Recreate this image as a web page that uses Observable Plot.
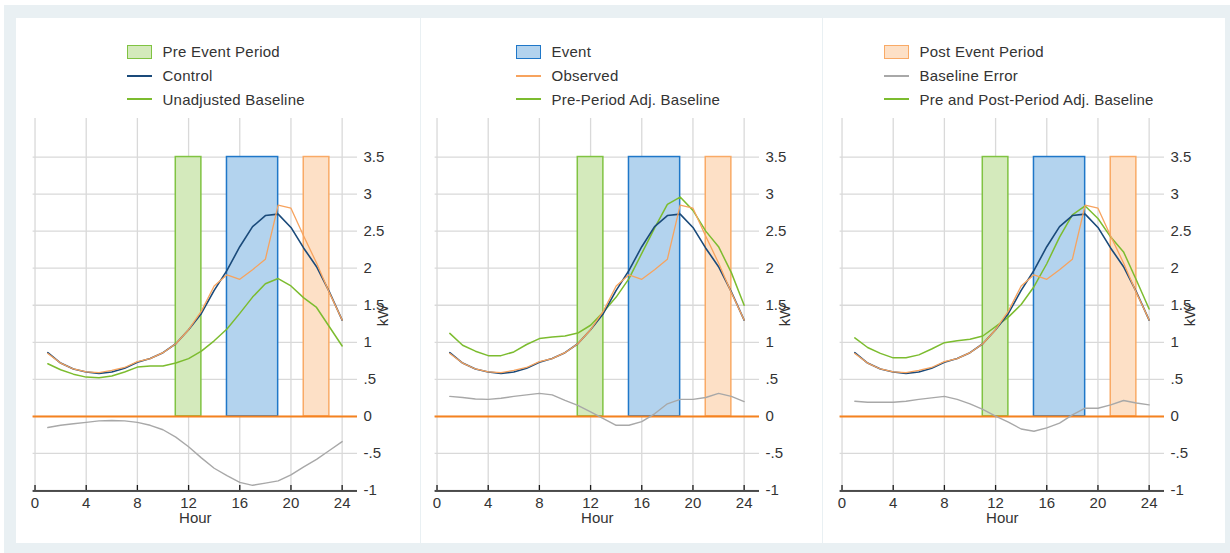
<!DOCTYPE html>
<html>
<head>
<meta charset="utf-8">
<script src="https://cdn.jsdelivr.net/npm/d3@7"></script>
<script src="https://cdn.jsdelivr.net/npm/@observablehq/plot@0.6"></script>
<style>
  body { margin: 0; width: 1230px; height: 553px; overflow: hidden; background: #fff;
         font-family: "Liberation Sans", Arial, sans-serif; }
  .bg { position: absolute; left: 4px; top: 5px; width: 1226px; height: 548px; background: #e9f0f3; }
  .pane { position: absolute; top: 18px; height: 525px; background: #fff; }
  .chart { position: absolute; top: 110px; }
  .legend { position: absolute; top: 40px; font-size: 15px; color: #333; letter-spacing: 0.25px; }
  .row { display: flex; align-items: center; height: 23.8px; white-space: nowrap; }
  .sw { width: 26px; display: flex; justify-content: center; align-items: center; margin-right: 10.5px; }
  .box { width: 23px; height: 12px; border-width: 1.5px; border-style: solid; }
  .ln { width: 25px; height: 2px; }
</style>
</head>
<body>
<div class="bg"></div>
<div class="pane" style="left:16px;width:404px"></div>
<div class="pane" style="left:421px;width:401px"></div>
<div class="pane" style="left:823px;width:402px"></div>
<div id="root"></div>
<script>
// ---------- data ----------
const hours = [1,2,3,4,5,6,7,8,9,10,11,12,13,14,15,16,17,18,19,20,21,22,23,24];

const control  = [0.86,0.72,0.64,0.60,0.58,0.60,0.65,0.73,0.78,0.86,0.98,1.17,1.39,1.70,1.97,2.29,2.56,2.71,2.73,2.55,2.27,2.02,1.68,1.30];
const observed = [0.85,0.72,0.64,0.60,0.59,0.62,0.66,0.74,0.78,0.86,0.98,1.17,1.42,1.76,1.91,1.85,1.98,2.12,2.85,2.81,2.43,2.07,1.67,1.30];

const unadjBaseline = [0.71,0.63,0.57,0.53,0.52,0.545,0.60,0.665,0.68,0.68,0.72,0.78,0.88,1.02,1.18,1.39,1.61,1.79,1.86,1.76,1.60,1.47,1.21,0.95];
const unadjError    = [-0.15,-0.12,-0.10,-0.08,-0.06,-0.055,-0.06,-0.08,-0.12,-0.18,-0.28,-0.41,-0.56,-0.70,-0.80,-0.89,-0.93,-0.90,-0.87,-0.79,-0.68,-0.58,-0.46,-0.34];

const preBaseline = [1.12,0.96,0.88,0.82,0.82,0.87,0.97,1.05,1.07,1.085,1.125,1.23,1.41,1.61,1.86,2.20,2.54,2.86,2.96,2.78,2.50,2.29,1.94,1.50];
const preError    = [0.27,0.255,0.235,0.23,0.245,0.27,0.29,0.31,0.29,0.215,0.15,0.06,-0.03,-0.12,-0.12,-0.07,0.035,0.17,0.23,0.23,0.255,0.31,0.27,0.20];

const prePostBaseline = [1.06,0.93,0.85,0.79,0.79,0.83,0.91,0.995,1.02,1.04,1.085,1.21,1.34,1.51,1.75,2.06,2.42,2.72,2.84,2.67,2.42,2.22,1.84,1.45];
const prePostError    = [0.205,0.19,0.19,0.19,0.205,0.23,0.25,0.27,0.23,0.17,0.095,0.005,-0.077,-0.17,-0.20,-0.155,-0.09,0.02,0.11,0.11,0.155,0.215,0.18,0.155];

const periodNames = ["Pre Event Period", "Event", "Post Event Period"];
const periodStart = [11, 15, 21];
const periodEnd   = [13, 19, 23];
const periodTop   = 3.5;

const xTicks = [0, 4, 8, 12, 16, 20, 24];
const yTicks = [-1, -0.5, 0, 0.5, 1, 1.5, 2, 2.5, 3, 3.5];
const yTickLabels = ["-1", "-.5", "0", ".5", "1", "1.5", "2", "2.5", "3", "3.5"];

const panelTitles = [
  ["Pre Event Period", "Control", "Unadjusted Baseline"],
  ["Event", "Observed", "Pre-Period Adj. Baseline"],
  ["Post Event Period", "Baseline Error", "Pre and Post-Period Adj. Baseline"]
];

// ---------- styles ----------
const C = {
  periodFill:   ["#d4eabc", "#b3d3ee", "#fde0c6"],
  periodStroke: ["#80c342", "#1f77c8", "#f9aa66"],
  control: "#1a4a7a",
  observed: "#f7a35e",
  baseline: "#7cbc2f",
  error: "#a8a8a8",
  zero: "#f5821f",
  grid: "#d9d9d9"
};

const W = 403, H = 435, mT = 8, mB = 55, mL = 16.6, mR = 62;
const frameH = H - mT - mB;

const panels = [
  {zeroX: 34.5,  baseline: unadjBaseline,   error: unadjError,   legendLeft: 126,
   legend: [{type: "box", i: 0}, {type: "line", color: C.control}, {type: "line", color: C.baseline}]},
  {zeroX: 436.7, baseline: preBaseline,     error: preError,     legendLeft: 515,
   legend: [{type: "box", i: 1}, {type: "line", color: C.observed}, {type: "line", color: C.baseline}]},
  {zeroX: 841.7, baseline: prePostBaseline, error: prePostError, legendLeft: 883,
   legend: [{type: "box", i: 2}, {type: "line", color: C.error}, {type: "line", color: C.baseline}]}
];

const root = document.getElementById("root");

panels.forEach((p, k) => {
  const periodMarks = periodNames.map((name, i) =>
    Plot.rect([name], {
      x1: () => periodStart[i], x2: () => periodEnd[i], y1: () => 0, y2: () => periodTop,
      fill: C.periodFill[i], stroke: C.periodStroke[i], strokeWidth: 1.5
    })
  );

  const chart = Plot.plot({
    width: W, height: H,
    marginTop: mT, marginBottom: mB, marginLeft: mL, marginRight: mR,
    x: {domain: [-0.15, 25.2]},
    y: {domain: [-1, 4.02]},
    style: {fontFamily: '"Liberation Sans", Arial, sans-serif', fontSize: "15px", color: "#333", background: "transparent", overflow: "visible"},
    marks: [
      Plot.gridX(xTicks, {stroke: C.grid, strokeOpacity: 1, strokeWidth: 1.3}),
      Plot.gridY(yTicks, {stroke: C.grid, strokeOpacity: 1, strokeWidth: 1.3}),
      ...periodMarks,
      Plot.ruleY([0], {stroke: C.zero, strokeWidth: 2}),
      Plot.ruleY([-1], {stroke: "#1a1a1a", strokeWidth: 1.3, dy: 0.5}),
      Plot.tickX(xTicks, {x: d => d, insetTop: frameH - 5, stroke: "#1a1a1a", strokeWidth: 1.3}),
      Plot.axisX(xTicks, {tickSize: 0, tickPadding: 7, label: null, fill: "#333"}),
      Plot.axisY(yTicks, {anchor: "right", tickSize: 0, tickPadding: 6, label: null, fill: "#333",
                          tickFormat: d => yTickLabels[yTicks.indexOf(d)]}),
      Plot.line(hours, {x: hours, y: p.error, stroke: C.error, strokeWidth: 1.4}),
      Plot.line(hours, {x: hours, y: p.baseline, stroke: C.baseline, strokeWidth: 1.5}),
      Plot.line(hours, {x: hours, y: control, stroke: C.control, strokeWidth: 1.6}),
      Plot.line(hours, {x: hours, y: observed, stroke: C.observed, strokeWidth: 1.3}),
      Plot.text(["Hour"], {frameAnchor: "bottom", dy: 32, fill: "#333", fontSize: 15}),
      Plot.text(["kW"], {frameAnchor: "right", dx: 26, rotate: -90, fill: "#333", fontSize: 15})
    ]
  });
  const holder = document.createElement("div");
  holder.className = "chart";
  holder.style.left = (p.zeroX - mL - 0.15 * ((W - mL - mR) / 25.35)) + "px";
  holder.appendChild(chart);
  root.appendChild(holder);

  // legend
  const lg = document.createElement("div");
  lg.className = "legend";
  lg.style.left = p.legendLeft + "px";
  p.legend.forEach((item, r) => {
    const row = document.createElement("div");
    row.className = "row";
    const sw = document.createElement("div");
    sw.className = "sw";
    const s = document.createElement("div");
    if (item.type === "box") {
      s.className = "box";
      s.style.background = C.periodFill[item.i];
      s.style.borderColor = C.periodStroke[item.i];
    } else {
      s.className = "ln";
      s.style.background = item.color;
    }
    sw.appendChild(s);
    const t = document.createElement("span");
    t.textContent = panelTitles[k][r];
    row.appendChild(sw);
    row.appendChild(t);
    lg.appendChild(row);
  });
  root.appendChild(lg);
});
</script>
</body>
</html>
